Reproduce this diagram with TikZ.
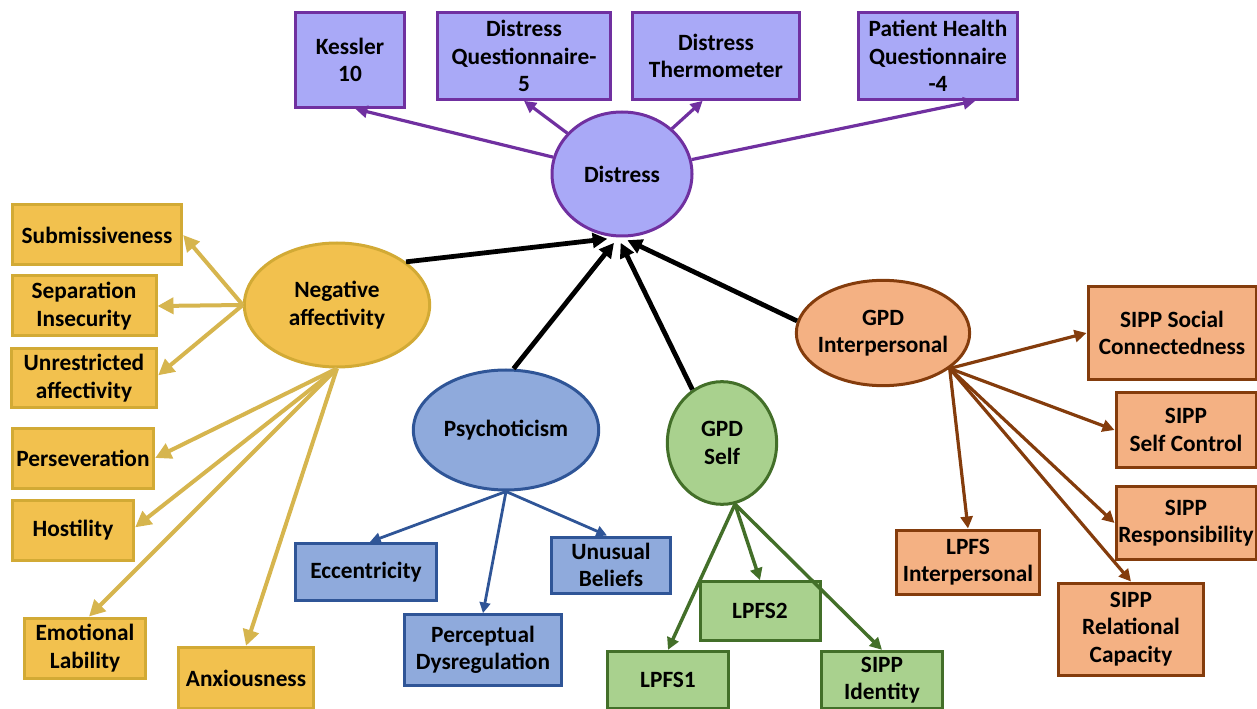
\documentclass[tikz,border=0pt]{standalone}
\usepackage{fontspec}
\setmainfont{Carlito}
\usetikzlibrary{arrows.meta,shapes.geometric}

\definecolor{purplefill}{HTML}{A9A9F7}
\definecolor{purpleline}{HTML}{7030A0}
\definecolor{yellowfill}{HTML}{F2C14E}
\definecolor{yellowline}{HTML}{D2AA35}
\definecolor{yellowarrow}{HTML}{D6B54E}
\definecolor{bluefill}{HTML}{8FAADC}
\definecolor{blueline}{HTML}{2F5597}
\definecolor{greenfill}{HTML}{A9D18E}
\definecolor{greenline}{HTML}{436F29}
\definecolor{orangefill}{HTML}{F4B183}
\definecolor{orangeline}{HTML}{843C0C}

\begin{document}
\begin{tikzpicture}[x=0.75pt, y=-0.75pt,
    every node/.style={font=\bfseries\fontsize{17.5}{20.5}\selectfont, align=center, inner sep=1pt},
    latent/.style={ellipse, line width=2.25pt, inner sep=0pt},
    measure/.style={rectangle, line width=2.25pt},
    purplenode/.style={draw=purpleline, fill=purplefill},
    yellownode/.style={draw=yellowline, fill=yellowfill},
    bluenode/.style={draw=blueline, fill=bluefill},
    greennode/.style={draw=greenline, fill=greenfill},
    orangenode/.style={draw=orangeline, fill=orangefill},
    purplearrow/.style={draw=purpleline, line width=2.4pt, -{Triangle[length=9pt,width=9pt]}},
    yellowarrowline/.style={draw=yellowarrow, line width=3pt, -{Triangle[length=12pt,width=12pt]}},
    bluearrow/.style={draw=blueline, line width=2.1pt, -{Triangle[length=8pt,width=8pt]}},
    greenarrow/.style={draw=greenline, line width=2.6pt, -{Triangle[length=9pt,width=9pt]}},
    orangearrow/.style={draw=orangeline, line width=2.4pt, -{Triangle[length=9pt,width=9pt]}},
    blackarrow/.style={draw=black, line width=3.6pt, -{Triangle[length=11pt,width=11pt]}}
]
\useasboundingbox (0,0) rectangle (1257,709);

% distress and its measures
\node [latent, purplenode, minimum width=105pt, minimum height=93pt] (distress) at (622,174) {Distress};
\node [measure, purplenode, minimum width=82pt, minimum height=71pt] (kessler) at (350,60) {Kessler\\10};
\node [measure, purplenode, minimum width=130pt, minimum height=65pt] (dqfive) at (524,56) {Distress\\Questionnaire-\\5};
\node [measure, purplenode, minimum width=125pt, minimum height=65pt] (dtherm) at (716,56) {Distress\\Thermometer};
\node [measure, purplenode, minimum width=119pt, minimum height=65pt] (phq) at (938,56) {Patient Health\\Questionnaire\\-4};

% negative affectivity
\node [latent, yellownode, minimum width=139pt, minimum height=93pt] (negaff) at (337,305) {Negative\\affectivity};
\node [measure, yellownode, minimum width=127pt, minimum height=45pt] (submiss) at (97,235) {Submissiveness};
\node [measure, yellownode, minimum width=108pt, minimum height=45pt] (sepins) at (84,306) {Separation\\Insecurity};
\node [measure, yellownode, minimum width=109pt, minimum height=44pt] (unraff) at (84,378) {Unrestricted\\affectivity};
\node [measure, yellownode, minimum width=106pt, minimum height=45pt] (persev) at (83,458) {Perseveration};
\node [measure, yellownode, minimum width=91pt, minimum height=45pt] (hostil) at (73,530) {Hostility};
\node [measure, yellownode, minimum width=91pt, minimum height=45pt] (emolab) at (85,648) {Emotional\\Lability};
\node [measure, yellownode, minimum width=101pt, minimum height=46pt] (anxious) at (246,678) {Anxiousness};

% psychoticism
\node [latent, bluenode, minimum width=139pt, minimum height=90pt] (psychot) at (506,430) {Psychoticism};
\node [measure, bluenode, minimum width=106pt, minimum height=43pt] (eccent) at (366,572) {Eccentricity};
\node [measure, bluenode, minimum width=118pt, minimum height=53pt] (percdys) at (483,650) {Perceptual\\Dysregulation};
\node [measure, bluenode, minimum width=89pt, minimum height=42pt] (unusual) at (611,565) {Unusual\\Beliefs};

% gpd self
\node [latent, greennode, minimum width=82pt, minimum height=92pt] (gpdself) at (722,443) {GPD\\Self};
\node [measure, greennode, minimum width=90pt, minimum height=44pt] (lpfstwo) at (760,611) {LPFS2};
\node [measure, greennode, minimum width=91pt, minimum height=43pt] (lpfsone) at (668,680) {LPFS1};
\node [measure, greennode, minimum width=91pt, minimum height=43pt] (sippid) at (882,680) {SIPP\\Identity};

% gpd interpersonal
\node [latent, orangenode, minimum width=130pt, minimum height=79pt, inner xsep=-5pt] (gpdint) at (883,333) {GPD\\Interpersonal};
\node [measure, orangenode, minimum width=126pt, minimum height=70pt] (sippsoc) at (1172,333) {SIPP Social\\Connectedness};
\node [measure, orangenode, minimum width=105pt, minimum height=56pt] (sippsc) at (1186,430) {SIPP\\Self Control};
\node [measure, orangenode, minimum width=105pt, minimum height=55pt] (sippresp) at (1186,523) {SIPP\\Responsibility};
\node [measure, orangenode, minimum width=107pt, minimum height=48pt] (lpfsint) at (968,562) {LPFS\\Interpersonal};
\node [measure, orangenode, minimum width=109pt, minimum height=69pt] (sipprel) at (1131,629) {SIPP\\Relational\\Capacity};

% connectors
\draw [purplearrow] (distress) -- ([xshift=4pt]kessler.south);
\draw [purplearrow] (distress) -- (dqfive.south);
\draw [purplearrow] (distress) -- ([xshift=-10pt]dtherm.south);
\draw [purplearrow] (distress) -- ([xshift=28pt]phq.south);

\draw [yellowarrowline] (negaff.west) -- (submiss.east);
\draw [yellowarrowline] (negaff.west) -- (sepins.east);
\draw [yellowarrowline] (negaff.west) -- ([yshift=2pt]unraff.east);
\draw [yellowarrowline] (negaff.south) -- (persev.east);
\draw [yellowarrowline] (negaff.south) -- ([yshift=2pt]hostil.east);
\draw [yellowarrowline] (negaff.south) -- ([xshift=3pt]emolab.north);
\draw [yellowarrowline] (negaff.south) -- (anxious.north);

\draw [bluearrow] (psychot.south) -- ([xshift=3pt]eccent.north);
\draw [bluearrow] (psychot.south) -- (percdys.north);
\draw [bluearrow] (psychot.south) -- ([xshift=-3pt]unusual.north);

\draw [greenarrow] (gpdself.-78) -- (lpfsone.north);
\draw [greenarrow] (gpdself.-78) -- (lpfstwo.north);
\draw [greenarrow] (gpdself.-78) -- (sippid.north);

\draw [orangearrow] (gpdint.-28) -- (sippsoc.west);
\draw [orangearrow] (gpdint.-28) -- (sippsc.west);
\draw [orangearrow] (gpdint.-28) -- (sippresp.west);
\draw [orangearrow] (gpdint.-28) -- (lpfsint.north);
\draw [orangearrow] (gpdint.-28) -- (sipprel.north);

\draw [blackarrow] (negaff.32) -- ([xshift=-11pt, yshift=-1pt]distress.south);
\draw [blackarrow] (psychot.83) -- ([xshift=-6pt, yshift=-4pt]distress.south);
\draw [blackarrow] (gpdself.119) -- ([xshift=-1pt, yshift=-4pt]distress.south);
\draw [blackarrow] (gpdint.172) -- ([xshift=4pt, yshift=-2pt]distress.south);
\end{tikzpicture}
\end{document}
